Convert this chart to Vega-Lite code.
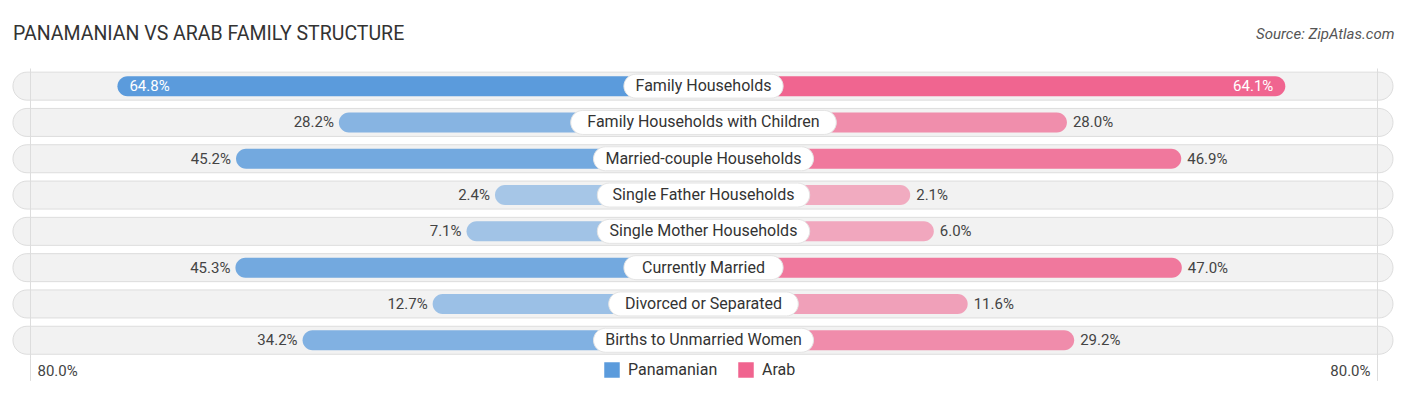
{
  "$schema": "https://vega.github.io/schema/vega-lite/v6.json",
  "width": 1406,
  "height": 290.4,
  "autosize": {"type": "none"},
  "padding": {"left": 0, "right": 0, "top": 68, "bottom": 36.6},
  "background": "white",
  "config": {"view": {"stroke": null}, "font": "Roboto"},
  "title": {
    "text": "PANAMANIAN VS ARAB FAMILY STRUCTURE",
    "anchor": "start",
    "frame": "group",
    "fontSize": 19.5,
    "fontWeight": "normal",
    "font": "Roboto",
    "color": "#333333",
    "dx": 13,
    "offset": -18
  },
  "data": {
    "values": [
      {"cat": "Family Households", "pan": 64.8, "arab": 64.1},
      {"cat": "Family Households with Children", "pan": 28.2, "arab": 28.0},
      {"cat": "Married-couple Households", "pan": 45.2, "arab": 46.9},
      {"cat": "Single Father Households", "pan": 2.4, "arab": 2.1},
      {"cat": "Single Mother Households", "pan": 7.1, "arab": 6.0},
      {"cat": "Currently Married", "pan": 45.3, "arab": 47.0},
      {"cat": "Divorced or Separated", "pan": 12.7, "arab": 11.6},
      {"cat": "Births to Unmarried Women", "pan": 34.2, "arab": 29.2}
    ]
  },
  "transform": [
    {"calculate": "format(datum.pan, '.1f') + '%'", "as": "panLabel"},
    {"calculate": "format(datum.arab, '.1f') + '%'", "as": "arabLabel"},
    {"calculate": "-32.07 + (length(datum.cat) * 7.6 + 30) / 2 / 6.05", "as": "pillL"},
    {"calculate": "-32.07 - (length(datum.cat) * 7.6 + 30) / 2 / 6.05", "as": "pillR"}
  ],
  "encoding": {
    "y": {"field": "cat", "type": "nominal", "sort": null, "axis": null, "scale": {"paddingInner": 0, "paddingOuter": 0}}
  },
  "resolve": {"scale": {"x": "independent"}, "axis": {"x": "independent"}},
  "layer": [
    {
      "mark": {"type": "bar", "height": 28, "cornerRadius": 14, "fill": "#f2f2f2", "stroke": "#dddddd", "strokeWidth": 1},
      "encoding": {
        "x": {"datum": 82.07, "type": "quantitative", "scale": {"domain": [-148.18, 84.21], "reverse": true, "nice": false, "zero": false}, "axis": null},
        "x2": {"datum": -146.03}
      }
    },
    {
      "mark": {"type": "bar", "height": 20, "cornerRadius": 10},
      "encoding": {
        "x": {"field": "pan", "type": "quantitative", "scale": {"domain": [-148.18, 84.21], "reverse": true, "nice": false, "zero": false},
          "axis": {"orient": "bottom", "values": [79.26], "grid": true, "gridColor": "#dddddd", "ticks": true, "tickSize": 22, "tickColor": "#dddddd", "domain": false, "labelExpr": "'80.0%'", "labelAlign": "left", "labelOffset": 7, "labelPadding": -17, "labelFontSize": 15, "labelColor": "#444444", "title": null, "zindex": 1}},
        "x2": {"datum": -32.07},
        "color": {"datum": "Panamanian", "type": "nominal", "scale": {"domain": ["Panamanian", "Arab"], "range": ["#5b9bdc", "#f0648f"]},
          "legend": {"orient": "none", "legendX": 604, "legendY": 294, "direction": "horizontal", "title": null, "symbolType": "square", "symbolSize": 240, "symbolStrokeWidth": 0, "labelFontSize": 16, "labelColor": "#333333", "labelOffset": 8, "columnPadding": 20, "padding": 0}},
        "opacity": {"field": "pan", "type": "quantitative", "scale": {"domain": [0, 65], "range": [0.48, 1]}, "legend": null}
      }
    },
    {
      "mark": {"type": "bar", "height": 20, "cornerRadius": 10},
      "encoding": {
        "x": {"field": "arab", "type": "quantitative", "scale": {"domain": [-148.35, 84.05], "nice": false, "zero": false},
          "axis": {"orient": "bottom", "values": [79.26], "grid": true, "gridColor": "#dddddd", "ticks": true, "tickSize": 22, "tickColor": "#dddddd", "domain": false, "labelExpr": "'80.0%'", "labelAlign": "right", "labelOffset": -7, "labelPadding": -17, "labelFontSize": 15, "labelColor": "#444444", "title": null, "zindex": 1}},
        "x2": {"datum": -32.07},
        "color": {"datum": "Arab", "type": "nominal"},
        "opacity": {"field": "arab", "type": "quantitative", "legend": null}
      }
    },
    {
      "transform": [{"filter": "datum.pan < 55"}],
      "mark": {"type": "text", "align": "right", "dx": -5, "fontSize": 15, "color": "#444444"},
      "encoding": {
        "x": {"field": "pan", "type": "quantitative", "scale": {"domain": [-148.18, 84.21], "reverse": true, "nice": false, "zero": false}, "axis": null},
        "text": {"field": "panLabel"}
      }
    },
    {
      "transform": [{"filter": "datum.pan >= 55"}],
      "mark": {"type": "text", "align": "left", "dx": 12, "fontSize": 15, "color": "white"},
      "encoding": {
        "x": {"field": "pan", "type": "quantitative", "scale": {"domain": [-148.18, 84.21], "reverse": true, "nice": false, "zero": false}, "axis": null},
        "text": {"field": "panLabel"}
      }
    },
    {
      "transform": [{"filter": "datum.arab < 55"}],
      "mark": {"type": "text", "align": "left", "dx": 6, "fontSize": 15, "color": "#444444"},
      "encoding": {
        "x": {"field": "arab", "type": "quantitative", "scale": {"domain": [-148.35, 84.05], "nice": false, "zero": false}, "axis": null},
        "text": {"field": "arabLabel"}
      }
    },
    {
      "transform": [{"filter": "datum.arab >= 55"}],
      "mark": {"type": "text", "align": "right", "dx": -12, "fontSize": 15, "color": "white"},
      "encoding": {
        "x": {"field": "arab", "type": "quantitative", "scale": {"domain": [-148.35, 84.05], "nice": false, "zero": false}, "axis": null},
        "text": {"field": "arabLabel"}
      }
    },
    {
      "mark": {"type": "bar", "height": 24, "cornerRadius": 12, "fill": "white", "stroke": "#e4e4e4", "strokeWidth": 1},
      "encoding": {
        "x": {"field": "pillL", "type": "quantitative", "scale": {"domain": [-148.18, 84.21], "reverse": true, "nice": false, "zero": false}, "axis": null},
        "x2": {"field": "pillR"}
      }
    },
    {
      "mark": {"type": "text", "align": "center", "fontSize": 16, "color": "#333333"},
      "encoding": {
        "x": {"datum": -32.07, "type": "quantitative", "scale": {"domain": [-148.18, 84.21], "reverse": true, "nice": false, "zero": false},
          "axis": {"orient": "top", "title": "Source: ZipAtlas.com", "domain": false, "ticks": false, "labels": false, "grid": false, "titleX": 1394, "titleY": -35, "titleAlign": "right", "titleBaseline": "middle", "titleFontStyle": "italic", "titleFontWeight": "normal", "titleFontSize": 15, "titleColor": "#555555"}},
        "text": {"field": "cat"}
      }
    }
  ]
}
